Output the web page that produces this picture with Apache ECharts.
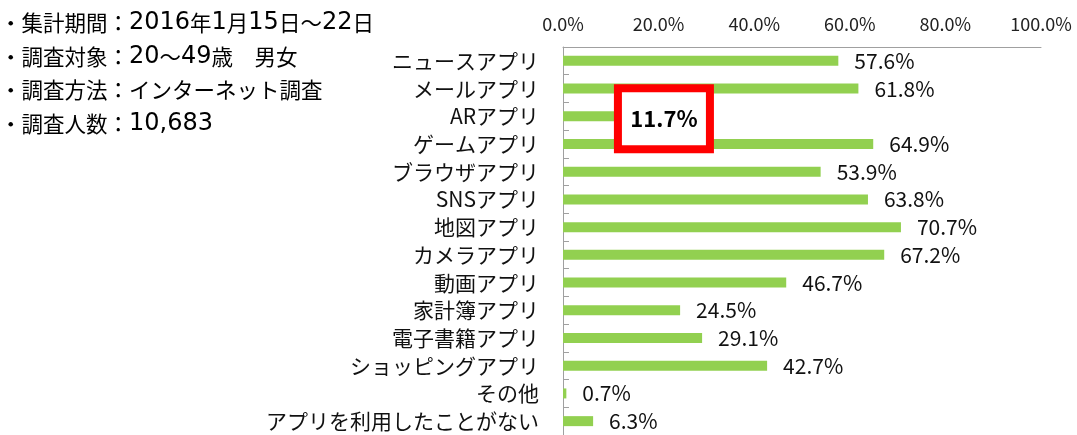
<!DOCTYPE html>
<html>
<head>
<meta charset="utf-8">
<script src="https://cdn.jsdelivr.net/npm/echarts@6/dist/echarts.min.js"></script>
<style>
html,body{margin:0;padding:0;background:#fff;}
#c{width:1077px;height:435px;}
</style>
</head>
<body>
<div id="c"></div>
<script>
const categories = ['ニュースアプリ','メールアプリ','ARアプリ','ゲームアプリ','ブラウザアプリ','SNSアプリ','地図アプリ','カメラアプリ','動画アプリ','家計簿アプリ','電子書籍アプリ','ショッピングアプリ','その他','アプリを利用したことがない'];
const values = [57.6,61.8,11.7,64.9,53.9,63.8,70.7,67.2,46.7,24.5,29.1,42.7,0.7,6.3];
const xTicks = [0,20,40,60,80,100];
const notes = ['・集計期間：2016年1月15日～22日','・調査対象：20～49歳　男女','・調査方法：インターネット調査','・調査人数：10,683'];
const highlightCategory = 'ARアプリ';

const FONT = '"Noto Sans CJK JP", "Noto Sans", sans-serif';
const chart = echarts.init(document.getElementById('c'), null, {renderer:'canvas'});

const data = values.map((v, i) => {
  const item = {value: v};
  if (categories[i] === highlightCategory) {
    item.label = {
      show: true,
      position: 'right',
      distance: 45,
      offset: [0, 2.5],
      align: 'center',
      verticalAlign: 'middle',
      fontSize: 22,
      fontWeight: 'bold',
      fontFamily: FONT,
      color: '#000',
      backgroundColor: '#fff',
      borderColor: '#ff0000',
      borderWidth: 8,
      width: 70,
      height: 22,
      lineHeight: 22,
      padding: [14, 7, 17, 7]
    };
  }
  return item;
});

function richNote(t) {
  return t.replace(/([0-9][0-9,]*)/g, '{d|$1}');
}

chart.setOption({
  animation: false,
  textStyle: {fontFamily: FONT},
  graphic: notes.map((t, i) => ({
    type: 'text',
    left: 0,
    top: 11 + i * 33.7,
    style: {
      text: richNote(t),
      fontSize: 21.5,
      lineHeight: 22,
      fontFamily: FONT,
      fill: '#000',
      rich: {
        d: {fontSize: 24, lineHeight: 22, fontFamily: '"DejaVu Sans", sans-serif', fill: '#000'}
      }
    }
  })),
  grid: {left: 563, right: 36, top: 47, bottom: -4, containLabel: false},
  xAxis: {
    type: 'value',
    position: 'top',
    min: 0, max: 100, interval: 20,
    axisLine: {show: true, lineStyle: {color: '#a0a0a0', width: 1}},
    axisTick: {show: false},
    splitLine: {show: false},
    axisLabel: {
      fontSize: 18, color: '#222', margin: 14, fontFamily: FONT,
      formatter: v => xTicks.includes(v) ? v.toFixed(1) + '%' : ''
    }
  },
  yAxis: {
    type: 'category',
    inverse: true,
    data: categories,
    axisLine: {show: true, lineStyle: {color: '#a0a0a0', width: 1}},
    axisTick: {show: true, inside: true, length: 6, lineStyle: {color: '#a0a0a0'}},
    axisLabel: {fontSize: 21, color: '#111', margin: 24, fontFamily: FONT}
  },
  series: [{
    type: 'bar',
    data: data,
    barWidth: 10,
    itemStyle: {color: '#92d050'},
    label: {
      show: true,
      position: 'right',
      distance: 16,
      fontSize: 21,
      color: '#111',
      fontFamily: FONT,
      formatter: p => p.value.toFixed(1) + '%'
    }
  }]
});
</script>
</body>
</html>
